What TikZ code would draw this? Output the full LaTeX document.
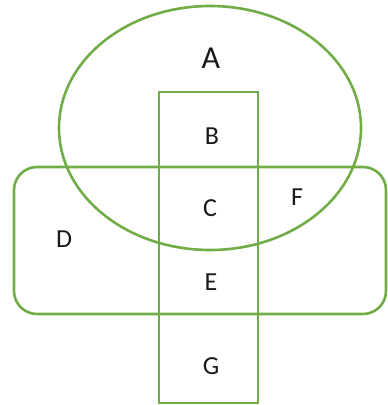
\documentclass[tikz,border=0pt]{standalone}
\usepackage{fontspec}
\setmainfont{Carlito}
\definecolor{vgreen}{RGB}{112,173,71}
\definecolor{vtext}{RGB}{25,25,25}
\begin{document}
\begin{tikzpicture}[x=1pt,y=-1pt,
  shapeline/.style={draw=vgreen,line width=2.6pt},
  lbl/.style={text=vtext,font=\fontsize{26}{26}\selectfont,inner sep=0pt},
  biglbl/.style={text=vtext,font=\fontsize{32}{32}\selectfont,inner sep=0pt}]
\useasboundingbox (0,0) rectangle (388,405);
\draw[shapeline] (210,128) ellipse [x radius=151, y radius=122];
\draw[shapeline,rounded corners=23pt] (14,167) rectangle (386,314);
\draw[shapeline] (159,92) rectangle (258,403);
\node[biglbl] (A) at (211,58) {A};
\node[lbl] (B) at (212,136) {B};
\node[lbl] (C) at (210,208) {C};
\node[lbl] (D) at (64,239) {D};
\node[lbl] (E) at (211,282) {E};
\node[lbl] (F) at (297,197) {F};
\node[lbl] (G) at (211,366) {G};
\end{tikzpicture}
\end{document}
